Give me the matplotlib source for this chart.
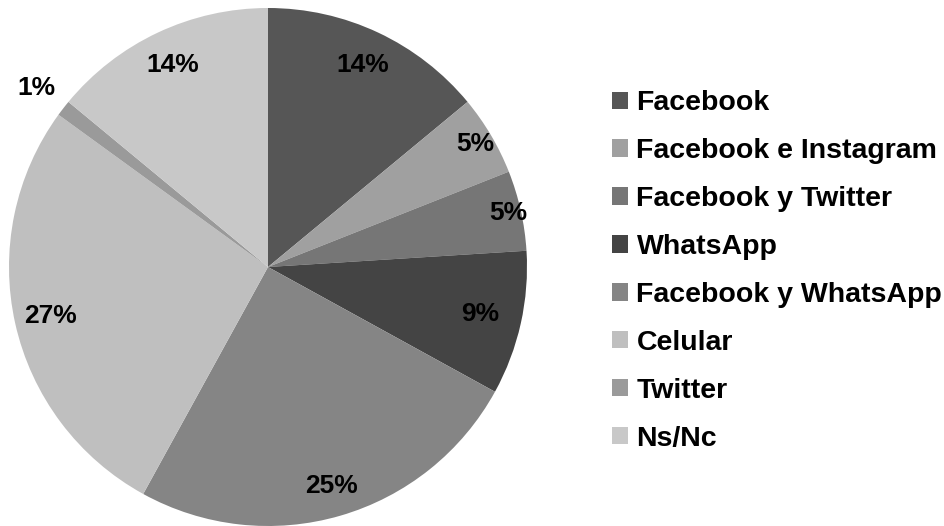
import matplotlib
matplotlib.use("Agg")
import matplotlib.pyplot as plt
import numpy as np

categories = ["Facebook", "Facebook e Instagram", "Facebook y Twitter", "WhatsApp",
              "Facebook y WhatsApp", "Celular", "Twitter", "Ns/Nc"]
values = [14, 5, 5, 9, 25, 27, 1, 14]
labels = ["14%", "5%", "5%", "9%", "25%", "27%", "1%", "14%"]

colors = ["#565656", "#a0a0a0", "#767676", "#444444",
          "#858585", "#bfbfbf", "#9a9a9a", "#c8c8c8"]
label_r = [0.86, 0.93, 0.95, 0.84, 0.88, 0.86, 1.13, 0.86]

plt.rcParams['font.family'] = ['Liberation Sans', 'DejaVu Sans']

W, H = 944, 526
fig = plt.figure(figsize=(W / 100, H / 100), dpi=100)
cx, cy, R = 268, 267, 259
ax = fig.add_axes([(cx - R) / W, (H - cy - R) / H, 2 * R / W, 2 * R / H])

wedges, _ = ax.pie(values, colors=colors, startangle=90, counterclock=False,
                   radius=1, wedgeprops=dict(linewidth=0))
for w, lab, rf in zip(wedges, labels, label_r):
    ang = np.deg2rad((w.theta1 + w.theta2) / 2)
    ax.text(rf * np.cos(ang), rf * np.sin(ang), lab, ha='center', va='center',
            fontsize=19, fontweight='bold', color='black')
ax.set_xlim(-1, 1)
ax.set_ylim(-1, 1)
ax.set_aspect('equal')
ax.axis('off')

fig.legend(wedges, categories, loc='center left',
           bbox_to_anchor=(612 / W, 1 - 271 / H), frameon=False,
           borderpad=0, borderaxespad=0, handlelength=0.56, handleheight=0.56,
           handletextpad=0.3, labelspacing=0.77,
           prop=dict(size=20.5, weight='bold'))

fig.savefig("out.png", dpi=100)
